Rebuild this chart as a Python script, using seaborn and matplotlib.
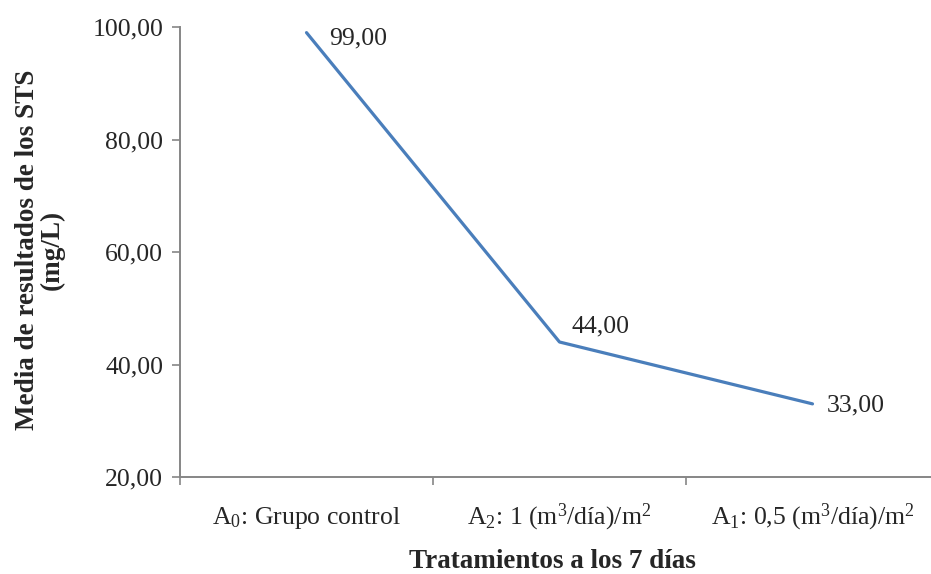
import matplotlib
matplotlib.use("Agg")
import matplotlib.pyplot as plt
import seaborn as sns
import pandas as pd

# Treatment labels and mean TSS results (mg/L) at 7 days
tratamientos = [
    "A$_{0}$: Grupo control",
    "A$_{2}$: 1 (m$^{3}$/día)/m$^{2}$",
    "A$_{1}$: 0,5 (m$^{3}$/día)/m$^{2}$",
]
medias = [99.0, 44.0, 33.0]
y_ticks = [20, 40, 60, 80, 100]

df = pd.DataFrame({"tratamiento": tratamientos, "media": medias})

sns.set_theme(style="white")
plt.rcParams["font.family"] = ["Liberation Serif", "DejaVu Serif"]
plt.rcParams["mathtext.fontset"] = "custom"
plt.rcParams["mathtext.rm"] = "Liberation Serif"
plt.rcParams["mathtext.default"] = "regular"

W, H = 931, 574
fig = plt.figure(figsize=(W / 100, H / 100), dpi=100)
ax = fig.add_axes([180 / W, 97 / H, 759 / W, 450 / H])

line_color = "#4A7EBB"
axis_color = "#868686"
fs = 18.5
fs_title = 19.5

sns.lineplot(data=df, x="tratamiento", y="media", ax=ax, color=line_color,
             linewidth=2.3, sort=False)

ax.set_xlim(-0.5, len(tratamientos) - 0.5)
ax.set_ylim(y_ticks[0], y_ticks[-1])

# Category boundaries as tick marks, labels centred on each category
ax.set_xticks([i - 0.5 for i in range(len(tratamientos) + 1)])
ax.set_xticklabels([])
ax.set_xticks(range(len(tratamientos)), minor=True)
ax.set_xticklabels(tratamientos, minor=True, fontsize=fs, va="baseline")
ax.tick_params(axis="x", which="minor", length=0, pad=34)
ax.tick_params(axis="x", which="major", length=6, width=1.2, color=axis_color,
               direction="out", bottom=True)

ax.set_yticks(y_ticks)
ax.set_yticklabels([f"{v:.2f}".replace(".", ",") for v in y_ticks], fontsize=fs)
ax.tick_params(axis="y", length=6, width=1.2, color=axis_color, direction="out",
               left=True, pad=6)

for side in ["top", "right"]:
    ax.spines[side].set_visible(False)
for side in ["left", "bottom"]:
    ax.spines[side].set_color(axis_color)
    ax.spines[side].set_linewidth(1.4)

# Value labels next to each point
offsets = [(16, -4), (9, 11), (10, -1)]
for i, (v, (dx, dy)) in enumerate(zip(medias, offsets)):
    ax.annotate(f"{v:.2f}".replace(".", ","), xy=(i, v), xytext=(dx, dy),
                textcoords="offset points", ha="left", va="center", fontsize=fs)

ax.set_xlabel("")
ax.set_ylabel("")
fig.text(552 / W, 1 - 562 / H, "Tratamientos a los 7 días",
         ha="center", va="center", fontsize=fs_title, fontweight="bold")
fig.text(40 / W, 1 - 250 / H, "Media de resultados de los STS\n(mg/L)",
         ha="center", va="center", rotation=90, fontsize=fs_title,
         fontweight="bold", linespacing=1.0)

fig.savefig("out.png", dpi=100)
